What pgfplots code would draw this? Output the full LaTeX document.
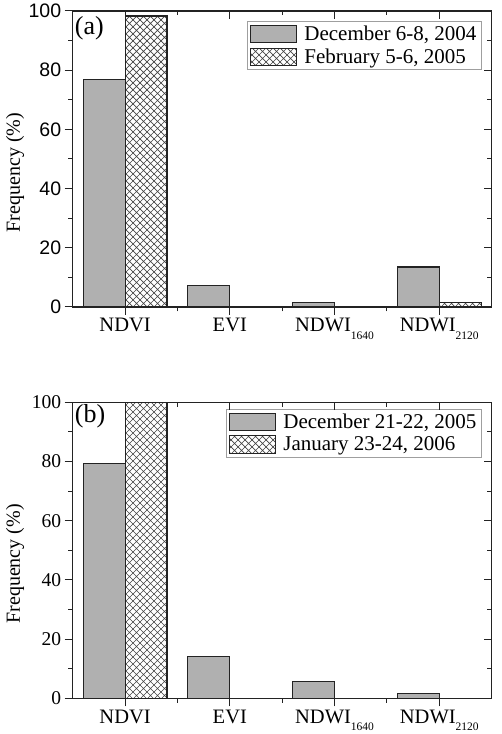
\documentclass[border=0pt]{standalone}
\usepackage{fontspec}
\setmainfont{Liberation Serif}
\newfontfamily\arialfont{Liberation Sans}
\usepackage{pgfplots}
\pgfplotsset{compat=1.18}
\usetikzlibrary{patterns}

% diagonal cross-hatch for the second series
\pgfdeclarepatternformonly{diagcross}{\pgfqpoint{-1pt}{-1pt}}{\pgfqpoint{8pt}{8pt}}{\pgfqpoint{7pt}{7pt}}{%
  \pgfsetlinewidth{0.7pt}%
  \pgfpathmoveto{\pgfqpoint{-0.1pt}{-0.1pt}}\pgfpathlineto{\pgfqpoint{7.1pt}{7.1pt}}%
  \pgfpathmoveto{\pgfqpoint{-0.1pt}{7.1pt}}\pgfpathlineto{\pgfqpoint{7.1pt}{-0.1pt}}%
  \pgfusepath{stroke}}

\definecolor{barfill}{RGB}{176,176,176}
\definecolor{edge}{RGB}{35,35,35}
\newcommand{\fs}[1]{\fontsize{#1}{#1}\selectfont}
\newcommand{\sub}[1]{\raisebox{-7.5pt}{\fs{11.5}#1}}

\pgfplotstableread{
idx first second
0 77.0 98.3
1 7.4  0
2 1.4  0
3 13.5 1.4
}\panelA

\pgfplotstableread{
idx first second
0 79.2 100
1 14.0 0
2 5.6  0
3 1.5  0
}\panelB

\pgfplotsset{
  frame/.style={
    width=419pt, height=296pt, scale only axis,
    xmin=-0.5, xmax=3.5, ymin=0, ymax=100,
    axis line style={line width=1.1pt, edge},
    xtick={0,1,2,3}, minor xtick={0.5,1.5,2.5},
    ytick={0,20,...,100}, minor ytick={10,30,50,70,90},
    major tick length=8pt, minor tick length=4.5pt,
    tick style={line width=1pt, edge},
  },
  panel/.style={
    frame,
    xtick pos=bottom, ytick pos=left, tick align=outside,
    /pgf/number format/assume math mode=true,
    xticklabels={NDVI,EVI,NDWI\sub{1640},NDWI\sub{2120}},
    xticklabel style={font=\fs{20.5}},
    ylabel={Frequency (\%)},
    ylabel style={font=\fs{20}, at={(axis description cs:-0.1377,0.454)}, anchor=center, rotate=0},
    ybar, bar width=0.4,
    legend style={at={(rel axis cs:1,1)}, anchor=north east,
      draw=gray!75, line width=0.6pt, font=\fs{21},
      inner xsep=3pt, inner ysep=2.5pt, row sep=3pt,
      /tikz/every odd column/.append style={column sep=5pt},
      cells={anchor=west}},
  },
  mirror/.style={
    frame,
    xtick pos=top, ytick pos=right, tick align=inside,
    xticklabels={}, yticklabels={},
  },
  leg/.style={legend image code/.code={
      \draw[##1, line width=1pt] (0pt,-8.8pt) rectangle (46pt,8.8pt);}},
  solidbar/.style={fill=barfill, draw=edge, line width=1.1pt, bar shift=-0.2, leg},
  hatchbar/.style={pattern=diagcross, pattern color=edge!85, draw=edge, line width=1.1pt, bar shift=0.2, leg},
}

\begin{document}
\begin{tikzpicture}
% ---- panel (a) ----
\begin{axis}[panel, at={(0pt,391.3pt)},
  yticklabel style={font=\arialfont\fs{19.5}},
  legend style={xshift=-10pt, yshift=-10pt}]
\addplot[solidbar] table[x=idx, y=first] {\panelA};
\addplot[hatchbar] table[x=idx, y=second] {\panelA};
\legend{{December 6-8, 2004},{February 5-6, 2005}}
\node[anchor=west, font=\fs{26}, inner xsep=2pt] at (rel axis cs:0,0.943) {(a)};
\end{axis}
\begin{axis}[mirror, at={(0pt,391.3pt)}]
\end{axis}
% ---- panel (b) ----
\begin{axis}[panel, at={(0pt,0pt)},
  yticklabel style={font=\fs{19.5}},
  legend style={xshift=-10pt, yshift=-6.7pt}]
\addplot[solidbar] table[x=idx, y=first] {\panelB};
\addplot[hatchbar] table[x=idx, y=second] {\panelB};
\legend{{December 21-22, 2005},{January 23-24, 2006}}
\node[anchor=west, font=\fs{26}, inner xsep=2pt] at (rel axis cs:0,0.952) {(b)};
\end{axis}
\begin{axis}[mirror, at={(0pt,0pt)}]
\end{axis}
\pgfresetboundingbox
\path (-72.7pt,-35.7pt) rectangle (428.3pt,698.3pt);
\end{tikzpicture}
\end{document}
